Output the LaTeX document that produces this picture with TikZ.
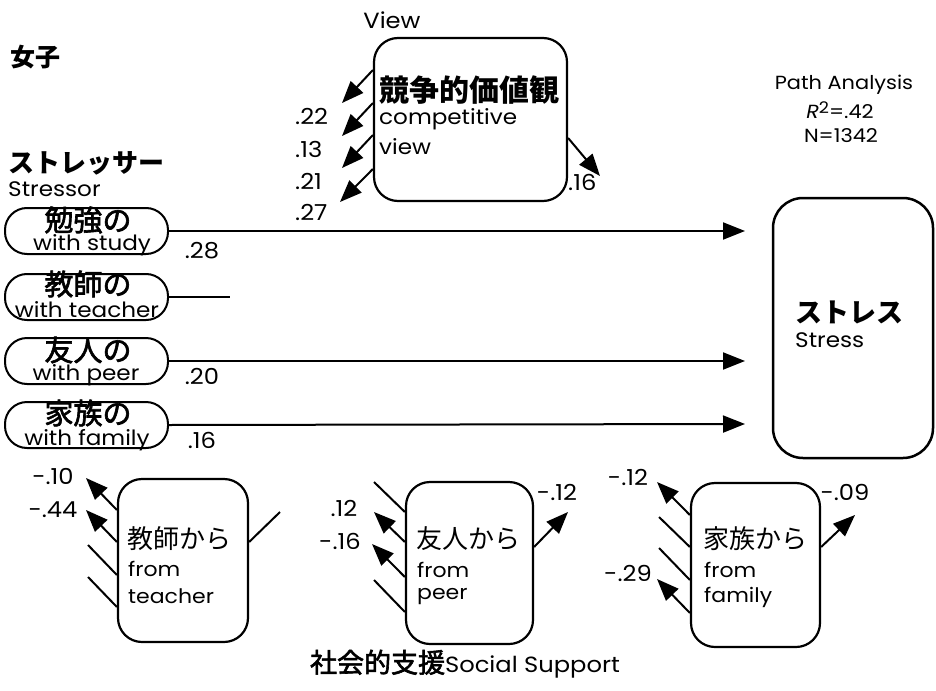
\documentclass[tikz,border=0pt]{standalone}
\usepackage{fontspec}
\setmainfont{Poppins}[FakeStretch=1.1]
\newfontfamily\jp{Noto Sans CJK JP}
\newfontfamily\jpm{Noto Sans CJK JP}[FakeBold=2.2]
\usetikzlibrary{arrows.meta}
\begin{document}
\begin{tikzpicture}[x=1pt,y=-1pt,
  box/.style={draw, line width=2.2pt, rounded corners=24pt, inner sep=0pt},
  pill/.style={draw, line width=2pt, rounded corners=22pt, inner sep=0pt, minimum width=163pt, minimum height=46pt},
  conn/.style={line width=2pt, -{Triangle[length=22pt,width=17pt]}},
  plain/.style={line width=2pt},
  lab/.style={font=\fontsize{22}{22}\selectfont, inner sep=0pt},
  en/.style={font=\fontsize{21}{21}\selectfont, inner sep=0pt, anchor=west},
  enc/.style={font=\fontsize{21}{21}\selectfont, inner sep=0pt},
  enb/.style={font=\fontsize{20}{20}\selectfont, inner sep=0pt, anchor=west},
  jpbig/.style={font=\jpm\fontsize{29}{29}\selectfont, inner sep=0pt},
  jpbox/.style={font=\jp\fontsize{26}{26}\selectfont, inner sep=0pt, anchor=west},
  jptitle/.style={font=\jp\bfseries\fontsize{26}{26}\selectfont, inner sep=0pt},
  info/.style={font=\fontsize{19}{19}\selectfont, inner sep=0pt}
]
\useasboundingbox (0,0) rectangle (936,690);

% titles
\node[jptitle, font=\jp\bfseries\fontsize{25}{25}\selectfont] (girls) at (35,57) {女子};
\node[jptitle, anchor=west] (strj) at (8,163) {ストレッサー};
\node[en] (stre) at (8,189) {Stressor};
\node[enc, font=\fontsize{22}{22}\selectfont] (viewt) at (392,20) {View};
\node[info] (pa) at (844,85) {Path Analysis};
\node[info] (r2) at (840,110) {\textit{R}\raisebox{0.5ex}{\fontsize{16}{16}\selectfont 2}=.42};
\node[info] (nn) at (841,136) {N=1342};

% competitive view box
\node[box, minimum width=193pt, minimum height=163pt] (comp) at (470.5,119.5) {};
\node[jptitle, font=\jp\bfseries\fontsize{30}{30}\selectfont, anchor=west] (compj) at (379,90) {競争的価値観};
\node[en] (compe1) at (379,119) {competitive};
\node[en] (compe2) at (379,147) {view};

% stress box
\node[box, line width=2.5pt, rounded corners=30pt, minimum width=160pt, minimum height=260pt] (stress) at (853,328) {};
\node[jptitle, font=\jp\bfseries\fontsize{27}{27}\selectfont, anchor=west] (stressj) at (795,312) {ストレス};
\node[en] (stresse) at (795,340) {Stress};

% stressor pills
\node[pill] (st1) at (86.5,231) {};
\node[pill] (st2) at (86.5,297) {};
\node[pill] (st3) at (86.5,361) {};
\node[pill] (st4) at (86.5,425) {};
\node[jpbig] (st1j) at (88,220) {勉強の};
\node[enc] (st1e) at (92,245) {with study};
\node[jpbig] (st2j) at (88,284) {教師の};
\node[enc] (st2e) at (87,310) {with teacher};
\node[jpbig] (st3j) at (88,350) {友人の};
\node[enc] (st3e) at (86,375) {with peer};
\node[jpbig] (st4j) at (88,413) {家族の};
\node[enc] (st4e) at (87,440) {with family};

% horizontal arrows
\coordinate (h1) at (745,231);
\coordinate (h3) at (745,361);
\coordinate (h4) at (745,424);
\coordinate (h2) at (230,297);
\draw[conn] (st1.east) -- (h1);
\draw[plain] (st2.east) -- (h2);
\draw[conn] (st3.east) -- (h3);
\draw[conn] (st4.east) -- (h4);
\node[lab] (l28) at (202,251) {.28};
\node[lab] (l20) at (202,376) {.20};
\node[lab] (l16b) at (202,440) {.16};

% competitive view arrows
\coordinate (cv1) at (342,103);
\coordinate (cv2) at (342,136);
\coordinate (cv3) at (342,168);
\coordinate (cv4) at (340,202);
\coordinate (cvr) at (600,176);
\draw[conn] (comp.west |- 0,70) -- (cv1);
\draw[conn] (comp.west |- 0,103) -- (cv2);
\draw[conn] (comp.west |- 0,135) -- (cv3);
\draw[conn] (comp.west |- 0,169) -- (cv4);
\draw[conn] (comp.east |- 0,138) -- (cvr);
\node[lab, anchor=west] (l22) at (295,116) {.22};
\node[lab, anchor=west] (l13) at (295,149) {.13};
\node[lab, anchor=west] (l21) at (295,181) {.21};
\node[lab, anchor=west] (l27) at (295,212) {.27};
\node[lab, anchor=west] (l16a) at (568,182) {.16};

% support boxes
\node[box, minimum width=130pt, minimum height=163pt] (sup1) at (183,560.5) {};
\node[box, minimum width=127pt, minimum height=162pt] (sup2) at (469.5,563) {};
\node[box, minimum width=129pt, minimum height=164pt] (sup3) at (755.5,565) {};
\node[jpbox] (s1j) at (127,539) {教師から};
\node[enb] (s1e1) at (128,569) {from};
\node[enb] (s1e2) at (128,596) {teacher};
\node[jpbox] (s2j) at (416,539) {友人から};
\node[enb] (s2e1) at (417,570) {from};
\node[enb] (s2e2) at (417,597) {peer};
\node[jpbox] (s3j) at (703,539) {家族から};
\node[enb] (s3e1) at (704,570) {from};
\node[enb] (s3e2) at (704,597) {family};

% teacher support lines
\coordinate (t1) at (86,478);
\coordinate (t2) at (86,510);
\coordinate (t3) at (88,545);
\coordinate (t4) at (88,577);
\coordinate (tr) at (280,512);
\draw[conn] (sup1.west |- 0,510) -- (t1);
\draw[conn] (sup1.west |- 0,542) -- (t2);
\draw[plain] (sup1.west |- 0,575) -- (t3);
\draw[plain] (sup1.west |- 0,607) -- (t4);
\draw[plain] (sup1.east |- 0,542) -- (tr);
\node[lab] (lm10) at (53,476) {-.10};
\node[lab] (lm44) at (53,510) {-.44};

% peer support lines
\coordinate (p1) at (374,482);
\coordinate (p2) at (374,512);
\coordinate (p3) at (372,544);
\coordinate (p4) at (374,580);
\coordinate (pr) at (568,512);
\draw[plain] (sup2.west |- 0,512) -- (p1);
\draw[conn] (sup2.west |- 0,542) -- (p2);
\draw[conn] (sup2.west |- 0,577) -- (p3);
\draw[plain] (sup2.west |- 0,612) -- (p4);
\draw[conn] (sup2.east |- 0,547) -- (pr);
\node[lab] (l12) at (344,508) {.12};
\node[lab] (lm16) at (340,541) {-.16};
\node[lab] (lm12a) at (557,492) {-.12};

% family support lines
\coordinate (f1) at (657,482);
\coordinate (f2) at (659,517);
\coordinate (f3) at (659,548);
\coordinate (f4) at (657,579);
\coordinate (fr) at (855,515);
\draw[conn] (sup3.west |- 0,515) -- (f1);
\draw[plain] (sup3.west |- 0,547) -- (f2);
\draw[plain] (sup3.west |- 0,580) -- (f3);
\draw[conn] (sup3.west |- 0,613) -- (f4);
\draw[conn] (sup3.east |- 0,547) -- (fr);
\node[lab] (lm12b) at (628,477) {-.12};
\node[lab] (lm09) at (845,492) {-.09};
\node[lab] (lm29) at (628,573) {-.29};

% bottom caption
\node[inner sep=0pt] (cap) at (465,664) {{\jpm\fontsize{27}{27}\selectfont 社会的支援}{\fontsize{22}{22}\selectfont Social Support}};
\end{tikzpicture}
\end{document}
